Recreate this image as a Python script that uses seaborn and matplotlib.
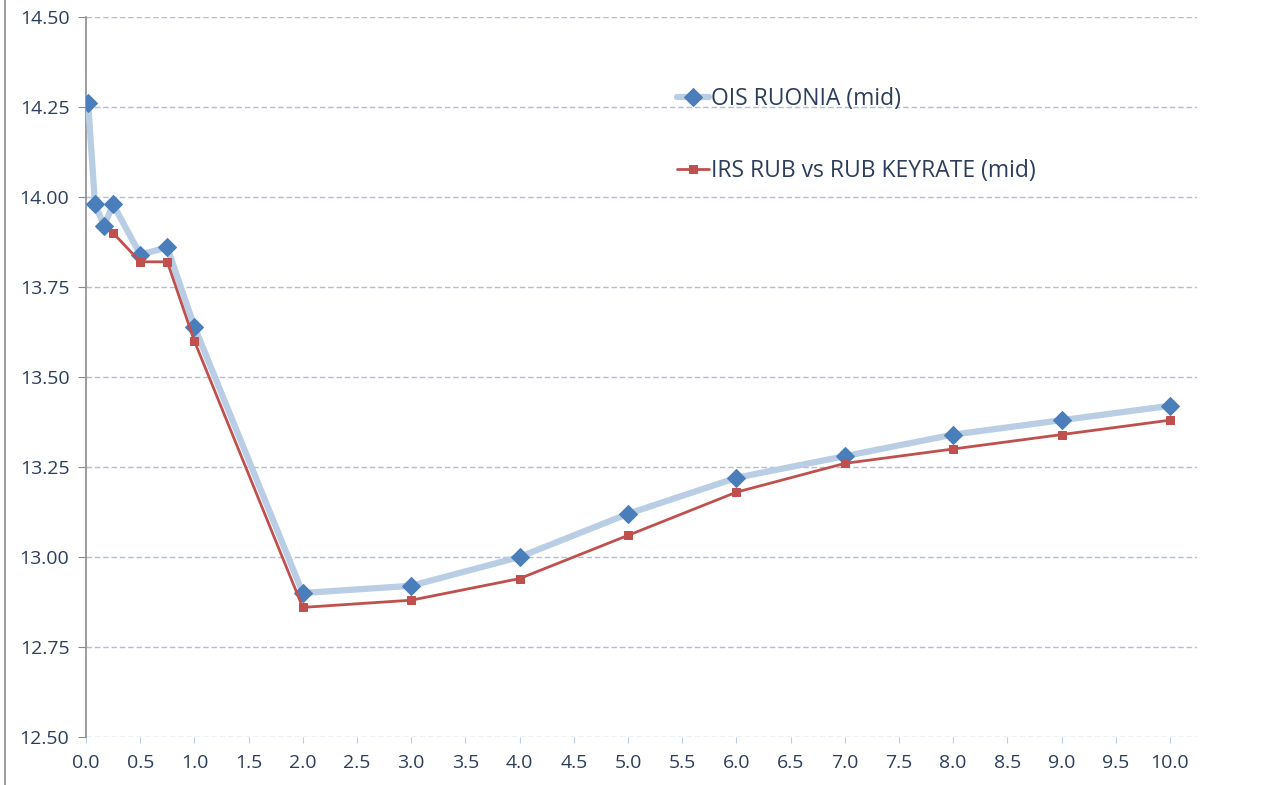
import pandas as pd
import numpy as np
import matplotlib
matplotlib.use('Agg')
import matplotlib.pyplot as plt
import seaborn as sns
from matplotlib.lines import Line2D

# tenors in years and mid rates
ois_tenor = [0.02, 0.083, 0.167, 0.25, 0.5, 0.75, 1.0, 2.0, 3.0, 4.0, 5.0, 6.0, 7.0, 8.0, 9.0, 10.0]
ois_rate = [14.26, 13.98, 13.92, 13.98, 13.84, 13.86, 13.64, 12.90, 12.92, 13.00, 13.12, 13.22, 13.28, 13.34, 13.38, 13.42]

irs_tenor = [0.25, 0.5, 0.75, 1.0, 2.0, 3.0, 4.0, 5.0, 6.0, 7.0, 8.0, 9.0, 10.0]
irs_rate = [13.90, 13.82, 13.82, 13.60, 12.86, 12.88, 12.94, 13.06, 13.18, 13.26, 13.30, 13.34, 13.38]

x_ticks = np.arange(0, 10.01, 0.5)
y_ticks = np.arange(12.5, 14.51, 0.25)

sns.set_style('white')
plt.rcParams['font.family'] = ['Open Sans', 'DejaVu Sans']
txt_col = '#2B3E5C'

df_ois = pd.DataFrame({'tenor': ois_tenor, 'rate': ois_rate})
df_irs = pd.DataFrame({'tenor': irs_tenor, 'rate': irs_rate})

fig = plt.figure(figsize=(12.75, 7.85), dpi=100)
ax = fig.add_axes([86/1275, 1-737/785, (1197-86)/1275, (737-17)/785])

sns.lineplot(data=df_ois, x='tenor', y='rate', ax=ax, color='#B9CDE5', linewidth=4.5,
             marker='D', markersize=9, markerfacecolor='#4A7EBB', markeredgecolor='#4A7EBB',
             label='OIS RUONIA (mid)', zorder=3)
sns.lineplot(data=df_irs, x='tenor', y='rate', ax=ax, color='#C0504D', linewidth=2,
             marker='s', markersize=6, markerfacecolor='#C0504D', markeredgecolor='#C0504D',
             label='IRS RUB vs RUB KEYRATE (mid)', zorder=4)

ax.set_xlim(0, 10.25)
ax.set_ylim(12.5, 14.5)
ax.set_xticks(x_ticks)
ax.set_xticklabels(['%.1f' % v for v in x_ticks])
ax.set_yticks(y_ticks)
ax.set_yticklabels(['%.2f' % v for v in y_ticks])
ax.set_xlabel('')
ax.set_ylabel('')

ax.grid(axis='y', color='#A9C1DE', linestyle=(0, (4, 2)), linewidth=1)
ax.set_axisbelow(True)
for s in ['top', 'right', 'bottom']:
    ax.spines[s].set_visible(False)
ax.spines['left'].set_color('#8C8C8C')
ax.spines['left'].set_linewidth(1.2)

ax.tick_params(axis='y', length=6, color='#8C8C8C', labelsize=14, labelcolor=txt_col, pad=6, left=True)
ax.tick_params(axis='x', length=4, color='#B9CDE5', labelsize=14, labelcolor=txt_col, pad=8, bottom=True, direction='out')

leg = ax.legend(loc='upper left', bbox_to_anchor=(0.513, 0.932), frameon=False, fontsize=16.5,
                labelspacing=2.1, handlelength=1.4, handletextpad=0.1)
for t in leg.get_texts():
    t.set_color(txt_col)

# left border line of the picture
fig.add_artist(Line2D([5/1275, 5/1275], [0, 1], color='#8C8C8C', linewidth=1.2))

fig.savefig('out.png', dpi=100)
